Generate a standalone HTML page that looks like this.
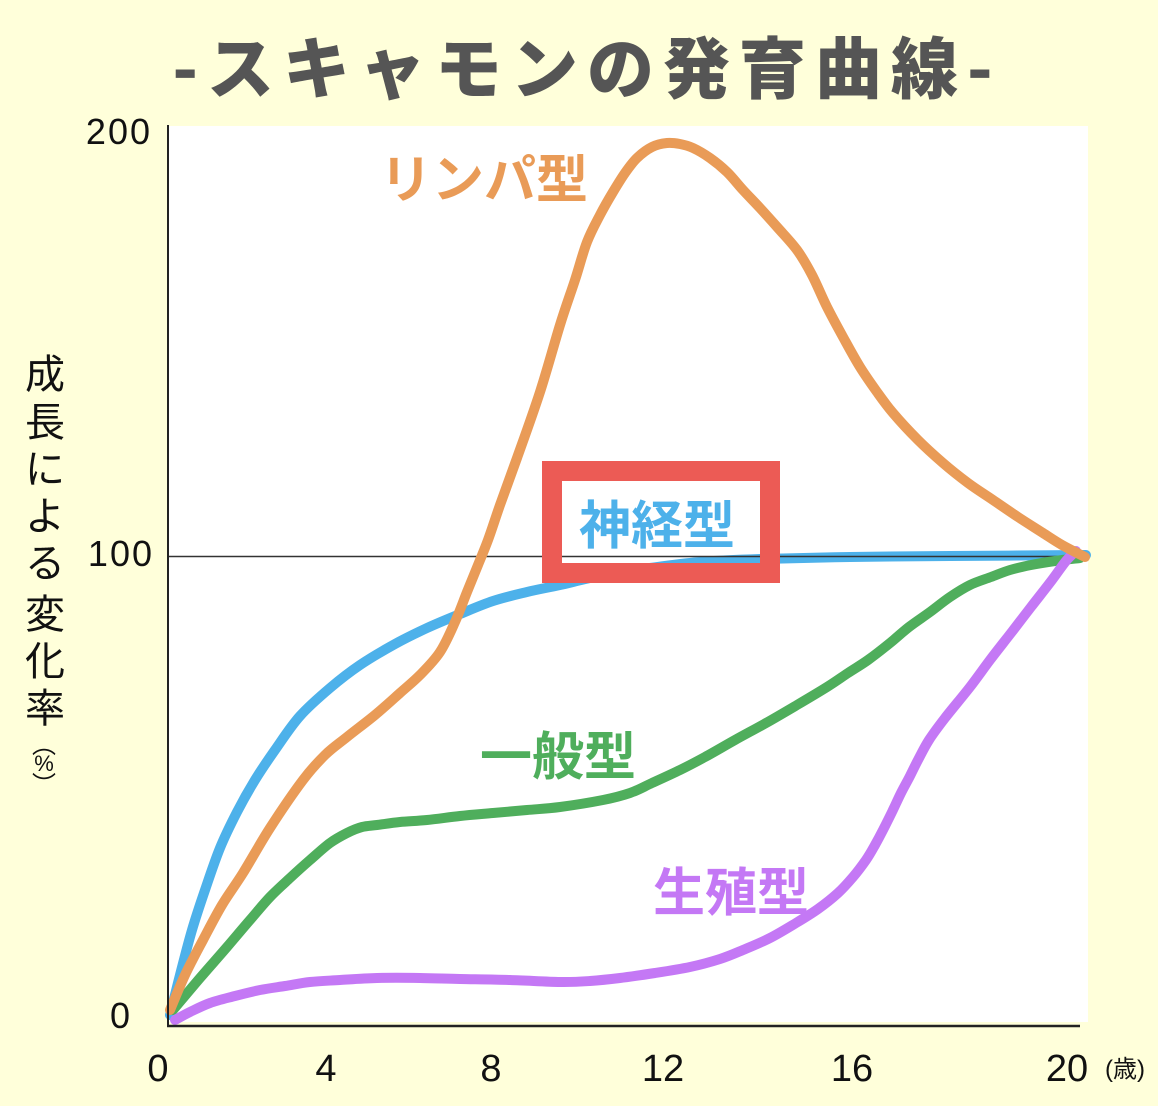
<!DOCTYPE html>
<html><head><meta charset="utf-8"><style>
html,body{margin:0;padding:0;background:#ffffda;}
svg{display:block;}
</style></head><body>
<svg width="1158" height="1106" viewBox="0 0 1158 1106" xmlns="http://www.w3.org/2000/svg">
<rect x="0" y="0" width="1158" height="1106" fill="#ffffda"/>
<rect x="168" y="126" width="920" height="896" fill="#ffffff"/>
<!-- title -->
<text x="587" y="93" text-anchor="middle" font-family="'Noto Sans CJK JP','Liberation Sans',sans-serif" font-weight="900" font-size="67" letter-spacing="9" fill="#555555">-スキャモンの発育曲線-</text>
<!-- blue -->
<path class="sm" fill="none" stroke="#4db1ea" stroke-width="10" stroke-linejoin="round" stroke-linecap="round" d="M170,1015 L180,975 L192,930 L205,890 L220,848 L237,812 L255,780 L275,750 L300,716 L330,688 L360,665 L395,644 L427,628 L460,614 L493,601 L527,592 L560,585 L600,576 L650,568 L700,562 L760,559 L850,557 L950,556 L1086,555"/>
<!-- 100 line -->
<line x1="168" y1="556.5" x2="1088" y2="556.5" stroke="#333" stroke-width="1.5"/>
<!-- green -->
<path class="sm" fill="none" stroke="#4fae5c" stroke-width="10" stroke-linejoin="round" stroke-linecap="round" d="M173,1010 L200,978 L227,947 L250,920 L270,897 L290,878 L310,860 L330,843 L347,833 L362,827 L377,825 L400,822 L427,820 L460,816 L493,813 L527,810 L560,807 L603,800 L630,793 L652,783 L680,770 L705,757 L735,740 L766,723 L797,705 L827,687 L848,673 L868,660 L890,643 L909,627 L930,612 L950,597 L970,585 L991,577 L1010,570 L1031,565 L1055,561 L1080,558"/>
<!-- purple -->
<path class="sm" fill="none" stroke="#c478f5" stroke-width="10" stroke-linejoin="round" stroke-linecap="round" d="M175,1020 L190,1012 L210,1003 L235,996 L260,990 L285,986 L310,982 L340,980 L377,978 L420,978 L460,979 L510,980 L560,982 L590,981 L620,978 L655,973 L690,967 L720,959 L743,950 L770,938 L796,923 L818,909 L838,893 L853,877 L866,860 L875,845 L883,830 L892,812 L901,793 L910,776 L918,760 L929,740 L945,718 L970,687 L990,660 L1011,633 L1031,607 L1052,580 L1066,561 L1076,551"/>
<!-- orange -->
<path class="sm" fill="none" stroke="#e99b57" stroke-width="10" stroke-linejoin="round" stroke-linecap="round" d="M170,1010 L185,975 L203,940 L222,905 L243,873 L270,828 L303,780 L325,755 L347,737 L375,715 L400,693 L420,675 L440,652 L455,622 L467,592 L478,565 L488,540 L500,505 L517,458 L540,392 L560,325 L575,280 L587,242 L600,215 L613,192 L625,173 L637,158 L652,147 L667,143 L680,144 L693,148 L710,158 L727,172 L743,190 L760,208 L778,228 L797,250 L812,275 L827,307 L843,337 L860,367 L877,392 L893,413 L918,440 L943,463 L968,483 L993,500 L1018,517 L1043,533 L1062,545 L1085,557"/>
<!-- axes -->
<line x1="168" y1="125" x2="168" y2="1027" stroke="#222" stroke-width="2"/>
<line x1="167" y1="1026" x2="1080" y2="1026" stroke="#222" stroke-width="2.5"/>
<!-- red box -->
<rect x="552" y="471" width="218" height="102" fill="none" stroke="#ec5b55" stroke-width="20"/>
<!-- curve labels -->
<g font-family="'Liberation Sans','Noto Sans CJK JP',sans-serif" font-weight="bold" font-size="52" text-anchor="middle">
<text x="484" y="198" fill="#e99b57">リンパ型</text>
<text x="657" y="544" fill="#4db1ea">神経型</text>
<text x="558" y="775" fill="#4fae5c">一般型</text>
<text x="731" y="911" fill="#c478f5">生殖型</text>
</g>
<!-- y tick labels -->
<g font-family="'Liberation Sans','DejaVu Sans',sans-serif" font-size="36" fill="#111" text-anchor="end">
<text x="152" y="144" letter-spacing="2">200</text>
<text x="154" y="566" letter-spacing="2">100</text>
<text x="130" y="1028">0</text>
</g>
<!-- x tick labels -->
<g font-family="'Liberation Sans','DejaVu Sans',sans-serif" font-size="38" fill="#111" text-anchor="middle">
<text x="158" y="1081">0</text>
<text x="326" y="1081">4</text>
<text x="491" y="1081">8</text>
<text x="663" y="1081">12</text>
<text x="852" y="1081">16</text>
<text x="1067" y="1081">20</text>
</g>
<text x="1125" y="1077" text-anchor="middle" font-family="'Liberation Sans','Noto Sans CJK JP',sans-serif" font-size="24" fill="#111">(歳)</text>
<!-- y axis title -->
<g font-family="'Liberation Sans','Noto Sans CJK JP',sans-serif" font-size="40" fill="#111" text-anchor="middle">
<text x="45" y="388">成</text>
<text x="45" y="436">長</text>
<text x="45" y="483">に</text>
<text x="45" y="530">よ</text>
<text x="45" y="577">る</text>
<text x="45" y="628">変</text>
<text x="45" y="675">化</text>
<text x="45" y="722">率</text>
</g>
<g font-family="'Liberation Sans','Noto Sans CJK JP',sans-serif" fill="#111" text-anchor="middle">
<text x="44" y="753" font-size="24">︵</text>
<text x="44" y="771" font-size="22">%</text>
<text x="44" y="793" font-size="24">︶</text>
</g>
</svg>
<script>
(function(){
var paths=document.querySelectorAll('path.sm');
for(var k=0;k<paths.length;k++){
 var p=paths[k];var d=p.getAttribute('d');
 var nums=d.replace(/[ML]/g,' ').trim().split(/[\s,]+/).map(Number);
 var pts=[];for(var i=0;i<nums.length;i+=2)pts.push([nums[i],nums[i+1]]);
 var s='M'+pts[0][0]+','+pts[0][1];
 for(var i=0;i<pts.length-1;i++){
  var p0=pts[i>0?i-1:i],p1=pts[i],p2=pts[i+1],p3=pts[i+2<pts.length?i+2:i+1];
  var c1x=p1[0]+(p2[0]-p0[0])/6,c1y=p1[1]+(p2[1]-p0[1])/6;
  var c2x=p2[0]-(p3[0]-p1[0])/6,c2y=p2[1]-(p3[1]-p1[1])/6;
  s+=' C'+c1x.toFixed(1)+','+c1y.toFixed(1)+' '+c2x.toFixed(1)+','+c2y.toFixed(1)+' '+p2[0]+','+p2[1];
 }
 p.setAttribute('d',s);
}
})();
</script>
</body></html>
